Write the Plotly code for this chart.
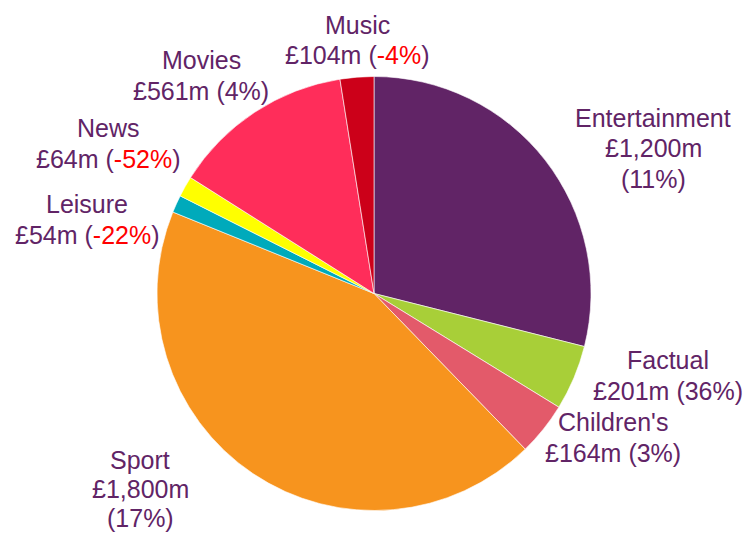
import plotly.graph_objects as go

# Genre spend (£m) and year-on-year change (%)
genres = ["Entertainment", "Factual", "Children's", "Sport", "Leisure", "News", "Movies", "Music"]
spend_m = [1200, 201, 164, 1800, 54, 64, 561, 104]
change_pct = [11, 36, 3, 17, -22, -52, 4, -4]
colors = ["#612466", "#a8cf38", "#e35a6a", "#f7941e", "#00aabb", "#ffff00", "#ff2d5a", "#cc0019"]

TEXT = "#612466"
NEG = "#ff0000"
W, H = 747, 534
FONT = dict(family="Liberation Sans, Arial", size=25, color=TEXT)

# label anchor: centre x, first-line y (pixels from top-left) and line pitch
label_pos = {
    "Entertainment": (653, 118, 30.5),
    "Factual": (668, 360, 30.5),
    "Children's": (613, 422, 30.5),
    "Sport": (140, 460, 29.0),
    "Leisure": (87, 204, 30.5),
    "News": (108, 128, 30.5),
    "Movies": (201, 60, 30.5),
    "Music": (357, 25, 30.5),
}
three_line = {"Entertainment", "Sport"}


def pct_text(p):
    if p < 0:
        return f"(<span style='color:{NEG}'>{p}%</span>)"
    return f"({p}%)"


fig = go.Figure(go.Pie(
    labels=genres,
    values=spend_m,
    sort=False,
    direction="clockwise",
    rotation=0,
    textinfo="none",
    hoverinfo="label+value",
    marker=dict(colors=colors, line=dict(color="white", width=0.6)),
    domain=dict(x=[(374 - 217) / W, (374 + 217) / W],
                y=[(H - 293.5 - 217) / H, (H - 293.5 + 217) / H]),
    showlegend=False,
))

annotations = []
for g, v, p in zip(genres, spend_m, change_pct):
    val = f"£{v:,}m"
    if g in three_line:
        lines = [g, val, pct_text(p)]
    else:
        lines = [g, f"{val} {pct_text(p)}"]
    px, py, pitch = label_pos[g]
    for i, line in enumerate(lines):
        annotations.append(dict(
            x=px / W, y=1 - (py + i * pitch) / H, xref="paper", yref="paper",
            xanchor="center", yanchor="middle", align="center",
            text=line, showarrow=False, font=FONT,
        ))

fig.update_layout(
    width=W, height=H,
    margin=dict(l=0, r=0, t=0, b=0),
    paper_bgcolor="white",
    plot_bgcolor="white",
    annotations=annotations,
)

fig.write_html("out.html")
